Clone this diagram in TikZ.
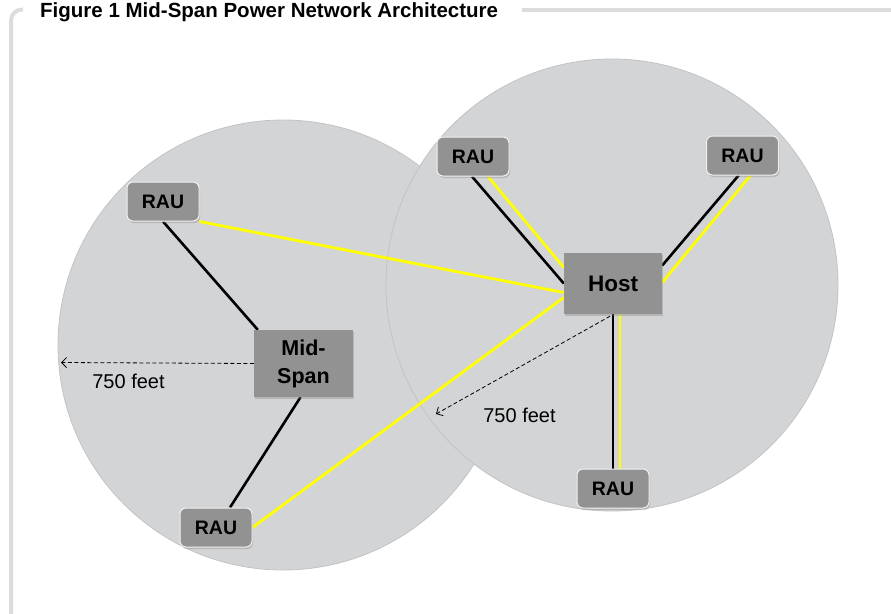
\documentclass[tikz,border=0pt]{standalone}
\usepackage{fontspec}
\setmainfont{Liberation Sans}
\usetikzlibrary{calc,shadows,arrows.meta}

\definecolor{zonefill}{RGB}{211,212,214}
\definecolor{zoneedge}{RGB}{194,195,197}
\definecolor{boxfill}{RGB}{146,146,146}
\definecolor{framegray}{RGB}{220,220,220}
\definecolor{cableyellow}{RGB}{255,255,0}

\pgfdeclarelayer{zones}
\pgfdeclarelayer{cables}
\pgfsetlayers{zones,cables,main}

\tikzset{
  zone/.style={fill=zonefill, draw=zoneedge, line width=0.8pt},
  raubox/.style={fill=boxfill, draw=white!90!gray, line width=1pt, rounded corners=6pt,
    minimum width=72pt, minimum height=39pt, inner sep=0pt,
    font=\fontsize{19.5}{21}\selectfont\bfseries,
    drop shadow={opacity=0.35, shadow xshift=1pt, shadow yshift=-2pt}},
  hubbox/.style={fill=boxfill, inner sep=0pt, align=center,
    drop shadow={opacity=0.35, shadow xshift=1pt, shadow yshift=-2pt}},
  copper/.style={black, line width=2.6pt},
  power/.style={cableyellow, line width=2.8pt},
  reach/.style={black, line width=0.8pt, dash pattern=on 4pt off 2.5pt,
    -{Straight Barb[length=5pt,width=10pt]}},
  distlabel/.style={font=\fontsize{20}{22}\selectfont},
}

\begin{document}
\begin{tikzpicture}[x=1pt,y=-1pt]
\useasboundingbox (0,0) rectangle (891,613);

% frame with title
\draw[framegray, line width=4pt, rounded corners=11pt] (11,614) -- (11,9.5) -- (23,9.5);
\draw[framegray, line width=4pt] (522,9.5) -- (892,9.5);
\node[anchor=base west, inner sep=0pt, font=\fontsize{20.5}{22}\selectfont\bfseries]
  (title) at (40,17) {Figure 1 Mid-Span Power Network Architecture};

% coverage zones
\begin{pgfonlayer}{zones}
  \filldraw[zone] (283,345) circle[radius=225];
  \filldraw[zone] (612,285) circle[radius=226];
\end{pgfonlayer}

% equipment
\node[hubbox, minimum width=98pt, minimum height=61pt,
  font=\fontsize{22.5}{24}\selectfont\bfseries] (host) at (613,283.5) {Host};
\node[hubbox, minimum width=99pt, minimum height=67pt,
  font=\fontsize{21.5}{28}\selectfont\bfseries] (mid) at (303.5,363.5) {Mid-\\Span};
\node[raubox] (rau1) at (163,201.5) {RAU};
\node[raubox] (rau2) at (473,156.5) {RAU};
\node[raubox] (rau3) at (742.5,155.5) {RAU};
\node[raubox] (rau4) at (613,488.5) {RAU};
\node[raubox] (rau5) at (216,527.5) {RAU};

\coordinate (ldash) at (61,362.5);
\coordinate (rdash) at (436,414);

% cabling, kept beneath the boxes
\begin{pgfonlayer}{cables}
  \draw[copper] (rau1.south) -- ($(mid.north west)+(4,0)$);
  \draw[copper] ($(mid.south)+(-3,0)$) -- ($(rau5.north)+(14,0)$);
  \draw[copper] ($(rau2.south)+(-1,0)$) -- (host.west);
  \draw[power]  ($(rau2.south)+(15,0)$) -- ($(host.west)+(0,-16)$);
  \draw[copper] ($(rau3.south)+(-4,0)$) -- ($(host.east)+(0,-18)$);
  \draw[power]  ($(rau3.south)+(8,0)$) -- ($(host.east)+(0,-1)$);
  \draw[copper] (host.south) -- (rau4.north);
  \draw[power]  ($(host.south)+(7,0)$) -- ($(rau4.north)+(7,0)$);
  \draw[power]  (rau1.south east) -- ($(host.west)+(0,9)$);
  \draw[power]  (rau5.east) -- ($(host.west)+(0,14)$);
  \draw[reach]  (mid.west) -- (ldash);
  \draw[reach]  ($(host.south)+(-3,2)$) -- (rdash);
\end{pgfonlayer}

\node[distlabel] (lbl1) at (128.5,381) {750 feet};
\node[distlabel] (lbl2) at (519.5,415.5) {750 feet};
\end{tikzpicture}
\end{document}
